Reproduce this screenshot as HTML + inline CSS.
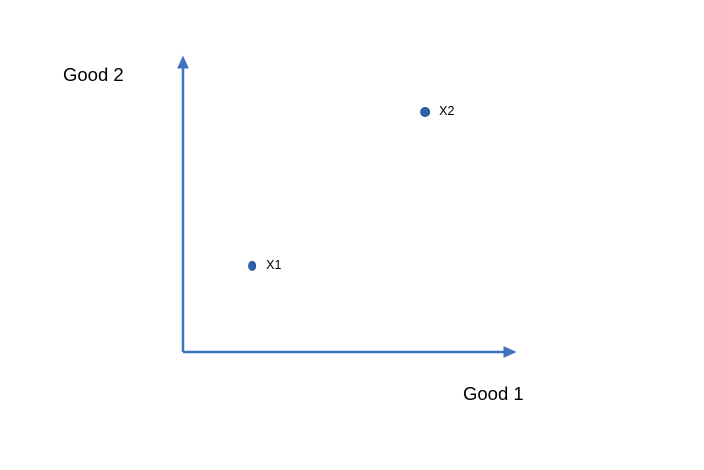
<!DOCTYPE html>
<html>
<head>
<meta charset="utf-8">
<style>
  html,body{margin:0;padding:0;background:#fff;}
  svg{display:block;}
  text{font-family:"Liberation Sans",sans-serif;fill:#000;}
</style>
</head>
<body>
<svg id="chart" width="704" height="470" viewBox="0 0 704 470">
  <defs>
    <marker id="arrow" viewBox="0 0 10 10" refX="5" refY="5" markerWidth="5.2" markerHeight="5.2" orient="auto">
      <path d="M0,0.5 L10,5 L0,9.5 z" fill="#3C72C0"/>
    </marker>
  </defs>
  <line x1="183" y1="352" x2="183" y2="62" stroke="#3C72C0" stroke-width="2.5" marker-end="url(#arrow)"/>
  <line x1="183" y1="352" x2="510" y2="352" stroke="#3C72C0" stroke-width="2.5" marker-end="url(#arrow)"/>
  <text x="63" y="81" font-size="18.5">Good 2</text>
  <text x="463" y="400" font-size="18.5">Good 1</text>
  <g id="points"></g>
</svg>
<script>
const pointLabels = ["X1", "X2"];
const good1Values = [20.7, 72.5];
const good2Values = [29, 80.8];

function xScale(v){ return 183 + v * 3.34; }
function yScale(v){ return 352 - v * 2.97; }

const g = document.getElementById('points');
const ns = 'http://www.w3.org/2000/svg';
for (let i = 0; i < pointLabels.length; i++) {
  const cx = xScale(good1Values[i]);
  const cy = yScale(good2Values[i]);
  const c = document.createElementNS(ns, 'ellipse');
  c.setAttribute('cx', cx);
  c.setAttribute('cy', cy);
  c.setAttribute('rx', i === 0 ? 3.5 : 4.5);
  c.setAttribute('ry', 4.5);
  c.setAttribute('fill', '#2E62B0');
  c.setAttribute('stroke', '#25508F');
  c.setAttribute('stroke-width', '1');
  
  
  g.appendChild(c);
  const t = document.createElementNS(ns, 'text');
  t.setAttribute('x', cx + 14);
  t.setAttribute('y', cy + 3);
  t.setAttribute('font-size', '12.5');
  t.textContent = pointLabels[i];
  
  
  g.appendChild(t);
}
</script>
</body>
</html>
